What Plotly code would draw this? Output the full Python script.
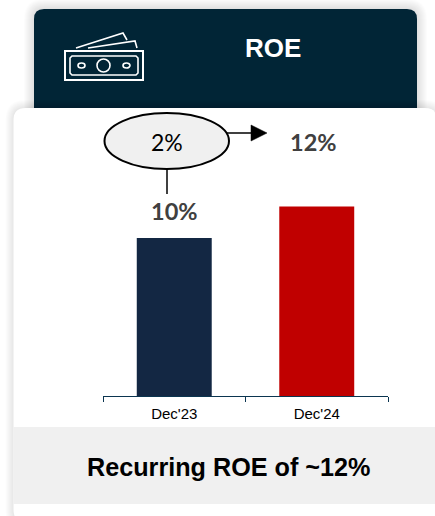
import plotly.graph_objects as go

categories = ["Dec'23", "Dec'24"]
roe_values = [10, 12]
roe_labels = ["10%", "12%"]
bar_colors = ["#132743", "#C00000"]
delta_label = "2%"
title_text = "ROE"
footer_text = "Recurring ROE of ~12%"

W, H = 435, 516
def px(x): return x / W
def py(y): return 1 - y / H

def rrect(x0, y0, x1, y1, r):
    a, b, c, d = px(x0), py(y0), px(x1), py(y1)
    rx, ry = r / W, r / H
    return (f"M{a+rx},{b} L{c-rx},{b} Q{c},{b} {c},{b-ry} L{c},{d+ry} Q{c},{d} {c-rx},{d} "
            f"L{a+rx},{d} Q{a},{d} {a},{d+ry} L{a},{b-ry} Q{a},{b} {a+rx},{b} Z")

def pshape(x0, y0, x1, y1, r, fill):
    return dict(type="path", xref="paper", yref="paper", path=rrect(x0, y0, x1, y1, r),
                fillcolor=fill, line=dict(width=0), layer="below")

def seg(pts, color="white", width=1.6, fill=None, closed=False):
    p = "M" + " L".join(f"{px(x)},{py(y)}" for x, y in pts) + (" Z" if closed else "")
    return dict(type="path", xref="paper", yref="paper", path=p,
                line=dict(color=color, width=width),
                fillcolor=fill if fill else "rgba(0,0,0,0)", layer="above")

def ell(x0, y0, x1, y1, fill="rgba(0,0,0,0)", color="white", width=1.6):
    return dict(type="circle", xref="paper", yref="paper", x0=px(x0), x1=px(x1),
                y0=py(y1), y1=py(y0), fillcolor=fill, line=dict(color=color, width=width), layer="above")

shadow = "rgba(0,0,0,0.012)"
shapes = []
for d in range(10, 0, -1):
    shapes.append(pshape(34 - d, 9 - d, 417 + d, 130 + d, 10 + d, shadow))
shapes.append(pshape(34, 9, 417, 130, 10, "#012536"))
for d in range(8, 0, -1):
    shapes.append(pshape(13.5 - d, 108 - d, 437 + d, 522 + d, 12 + d, shadow))
shapes.append(pshape(13.5, 108, 437, 522, 12, "#ffffff"))
shapes.append(dict(type="rect", xref="paper", yref="paper", x0=px(13.5), x1=1, y0=py(504), y1=py(427),
                   fillcolor="#F0F0F0", line=dict(width=0), layer="below"))

# banknote icon
shapes += [
    seg([(65, 51), (143, 51), (143, 80), (65, 80)], closed=True, width=2),
    seg([(72, 56), (136, 56), (138, 58), (138, 73), (136, 75), (72, 75), (70, 73), (70, 58)], closed=True, width=1.6),
    ell(97, 59, 110, 72), ell(78, 63, 85, 68), ell(123, 63, 130, 68),
    seg([(76, 48), (123, 33), (127, 40)], width=1.6),
    seg([(88, 48), (135, 41), (137, 48)], width=1.6),
]

# callout
shapes += [
    dict(type="line", xref="paper", yref="paper", x0=px(167), x1=px(167), y0=py(169), y1=py(194),
         line=dict(color="#000000", width=1.5), layer="above"),
    dict(type="line", xref="paper", yref="paper", x0=px(226), x1=px(253), y0=py(133), y1=py(133),
         line=dict(color="#000000", width=1.5), layer="above"),
    seg([(251, 125), (267, 133), (251, 141)], color="#000000", width=0.5, fill="#000000", closed=True),
    ell(104.5, 113, 229, 169, fill="#F0F0F0", color="#000000", width=2),
]

fig = go.Figure(go.Bar(x=categories, y=roe_values, marker=dict(color=bar_colors, line=dict(width=0)),
                       width=0.526, hoverinfo="skip"))

def note(x, y, text, size, color="#000000", bold=False, family="Liberation Sans"):
    return dict(xref="paper", yref="paper", x=px(x), y=py(y), text=f"<b>{text}</b>" if bold else text,
                showarrow=False, xanchor="center", yanchor="middle",
                font=dict(size=size, color=color, family=family))

annotations = [
    note(272.5, 48, title_text, 26, "#ffffff", True),
    note(228.5, 466.5, footer_text, 25.2, "#000000", True),
    note(167, 142, delta_label, 23, "#000000", False, "Lato"),
    note(174.5, 211, roe_labels[0], 23.5, "#404040", True, "Lato"),
    note(313, 142, roe_labels[1], 23.5, "#404040", True, "Lato"),
]

fig.update_layout(
    width=W, height=H, margin=dict(l=0, r=0, t=0, b=0), autosize=False,
    paper_bgcolor="#ffffff", plot_bgcolor="rgba(0,0,0,0)", showlegend=False,
    shapes=shapes, annotations=annotations,
    xaxis=dict(domain=[px(103), px(388)], type="category", tickson="boundaries", ticks="outside",
               ticklen=5, tickwidth=1, tickcolor="#0B3550", showline=True, linecolor="#0B3550", linewidth=1,
               showgrid=False, ticklabelstandoff=4,
               tickfont=dict(family="Liberation Sans", size=15, color="#000000")),
    yaxis=dict(domain=[py(396), py(1)], range=[0, 25], visible=False, showgrid=False, zeroline=False),
)
fig.write_html("out.html", config=dict(displayModeBar=False),
               post_script="document.body.style.margin='0';document.body.style.overflow='hidden';")
